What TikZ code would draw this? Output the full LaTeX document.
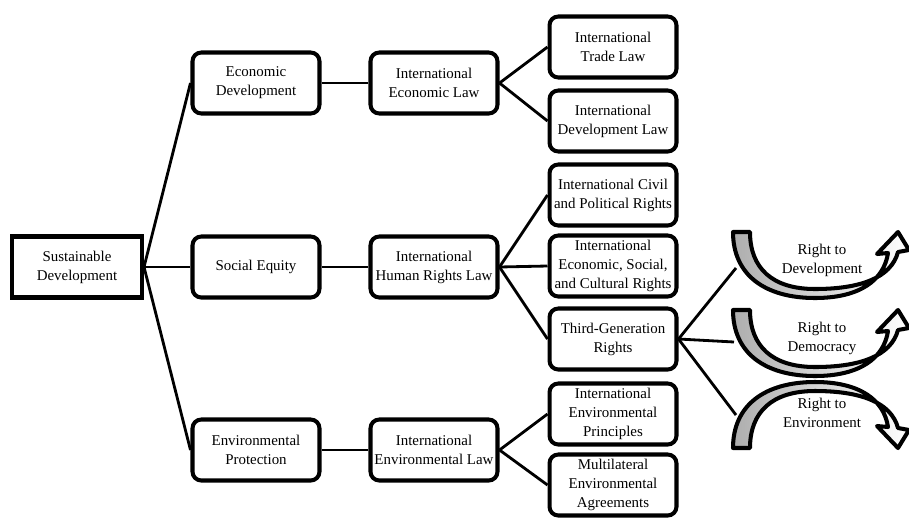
\documentclass[tikz,border=0pt]{standalone}
\usepackage{fontspec}
\setmainfont{Liberation Serif}
\usetikzlibrary{arrows.meta}

\tikzset{
	% curved band arrow, tail at the origin
	rightarc/.pic={
		\path[band] (0,0) .. controls (0,43) and (32,66) .. (82,66)
			.. controls (127,66) and (151,48) .. (155,21)
			-- (144,22) -- (165,0) -- (176,18) -- (165,20)
			.. controls (158,46) and (127,57) .. (82,57)
			.. controls (39,57) and (17,36) .. (17,0) -- cycle;
	}
}

\begin{document}
\begin{tikzpicture}[x=0.02cm,y=-0.02cm,
	every node/.style={font=\fontsize{8.5}{10.8}\selectfont, align=center},
	box/.style={draw, line width=2.3pt, rounded corners=5pt, minimum width=2.54cm,
		minimum height=1.22cm, inner xsep=0.5pt, inner ysep=1pt},
	rootbox/.style={box, rounded corners=0pt, minimum width=2.6cm},
	link/.style={line width=1.6pt},
	band/.style={draw, line width=2.3pt, line join=round, left color=black!32, right color=white}]
	\useasboundingbox (0,0) rectangle (909,518);
	
	\node[rootbox] (sd) at (77,267) {Sustainable\\Development};
	
	\node[box] (econ) at (256,83) {Economic\\Development};
	\node[box] (social) at (256,267) {Social Equity};
	\node[box] (envprot) at (256,450) {Environmental\\Protection};
	
	\node[box] (iel) at (434,83) {International\\Economic Law};
	\node[box] (ihrl) at (434,267) {International\\Human Rights Law};
	\node[box] (ienvl) at (434,450) {International\\Environmental Law};
	
	\node[box] (trade) at (613,47) {International\\Trade Law};
	\node[box] (devlaw) at (613,121) {International\\Development Law};
	\node[box] (civil) at (613,195) {International Civil\\and Political Rights};
	\node[box] (escr) at (613,266) {International\\Economic, Social,\\and Cultural Rights};
	\node[box] (thirdgen) at (613,339) {Third-Generation\\Rights};
	\node[box] (envprin) at (613,414) {International\\Environmental\\Principles};
	\node[box] (mea) at (613,485) {Multilateral\\Environmental\\Agreements};
	
	% third generation rights
	\pic at (733,232) {rightarc};
	\pic at (733,310) {rightarc};
	\pic[yscale=-1] at (733,448) {rightarc};
	\node (rdev) at (822,260) {Right to\\Development};
	\node (rdem) at (822,338) {Right to\\Democracy};
	\node (renv) at (822,413) {Right to\\Environment};
	\coordinate (tdev) at (736,268);
	\coordinate (tdem) at (734,342);
	\coordinate (tenv) at (736,415);
	
	\draw[link] (sd.east) -- (econ.west);
	\draw[link] (sd.east) -- (social.west);
	\draw[link] (sd.east) -- (envprot.west);
	\draw[link] (econ) -- (iel);
	\draw[link] (social) -- (ihrl);
	\draw[link] (envprot) -- (ienvl);
	\draw[link] (iel.east) -- (trade.west);
	\draw[link] (iel.east) -- (devlaw.west);
	\draw[link] (ihrl.east) -- (civil.west);
	\draw[link] (ihrl.east) -- (escr.west);
	\draw[link] (ihrl.east) -- (thirdgen.west);
	\draw[link] (ienvl.east) -- (envprin.west);
	\draw[link] (ienvl.east) -- (mea.west);
	\draw[link] (thirdgen.east) -- (tdev);
	\draw[link] (thirdgen.east) -- (tdem);
	\draw[link] (thirdgen.east) -- (tenv);
\end{tikzpicture}
\end{document}
